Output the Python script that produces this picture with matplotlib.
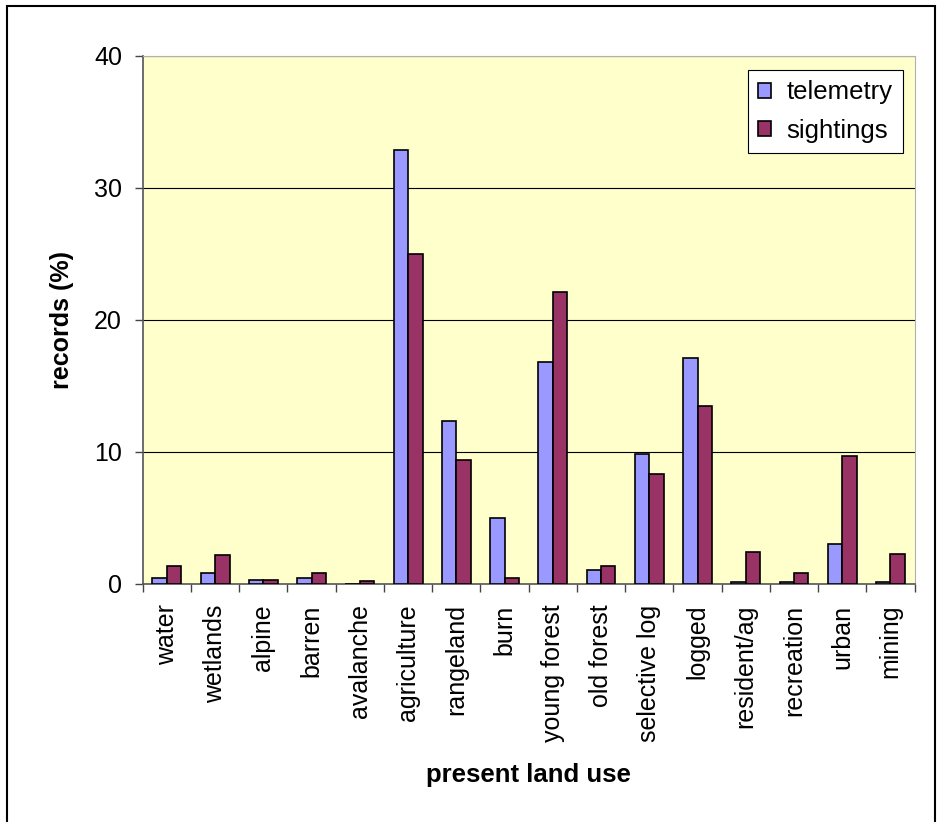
import numpy as np
import matplotlib.pyplot as plt
from matplotlib.patches import Rectangle

plt.rcParams['font.family'] = ['Liberation Sans', 'DejaVu Sans']

land_use = ['water', 'wetlands', 'alpine', 'barren', 'avalanche', 'agriculture',
            'rangeland', 'burn', 'young forest', 'old forest', 'selective log',
            'logged', 'resident/ag', 'recreation', 'urban', 'mining']
telemetry = [0.45, 0.8, 0.3, 0.45, 0.0, 32.9, 12.3, 5.0, 16.8, 1.05, 9.8,
             17.1, 0.15, 0.15, 3.0, 0.15]
sightings = [1.35, 2.15, 0.3, 0.8, 0.17, 25.0, 9.4, 0.45, 22.1, 1.35, 8.3,
             13.5, 2.4, 0.8, 9.7, 2.25]

fig = plt.figure(figsize=(9.39, 8.22), dpi=100)
ax = fig.add_axes([0.152, 0.290, 0.822, 0.642])
ax.set_facecolor('#FFFFCC')

x = np.arange(len(land_use))
w = 0.3
ax.bar(x - w / 2, telemetry, w, color='#9999FF', edgecolor='black',
       linewidth=1.2, label='telemetry', zorder=3)
ax.bar(x + w / 2, sightings, w, color='#993366', edgecolor='black',
       linewidth=1.2, label='sightings', zorder=3)

ax.set_xlim(-0.5, len(land_use) - 0.5)
ax.set_ylim(0, 40)
ax.set_yticks([0, 10, 20, 30, 40])
ax.yaxis.grid(True, color='black', linewidth=0.8, zorder=1)

ax.set_xticks(x)
ax.set_xticklabels(land_use, rotation=90, fontsize=18)
ax.tick_params(axis='x', which='major', length=0, pad=15)
ax.set_xticks(np.arange(len(land_use) + 1) - 0.5, minor=True)
ax.tick_params(axis='x', which='minor', length=6, width=1, color='#444444',
               direction='out')
ax.tick_params(axis='y', length=6, width=1, color='#444444', labelsize=18, pad=9)

for side in ['top', 'right']:
    ax.spines[side].set_color('#b0b0b0')
for side in ['left', 'bottom']:
    ax.spines[side].set_color('#555555')
    ax.spines[side].set_linewidth(1.2)

ax.set_ylabel('records (%)', fontsize=18, fontweight='bold', labelpad=14)
ax.set_xlabel('present land use', fontsize=18.5, fontweight='bold', labelpad=15)

leg = ax.legend(loc='upper right', fontsize=18.5, frameon=True, fancybox=False,
                edgecolor='black', framealpha=1, handlelength=0.5,
                handleheight=0.5, handletextpad=0.6, borderpad=0.4,
                labelspacing=0.55, borderaxespad=0,
                bbox_to_anchor=(0.985, 0.973))
leg.get_frame().set_linewidth(0.8)

# outer chart border
fig.patches.append(Rectangle((7 / 939, -0.05), 928 / 939, 1.05 - 6 / 822,
                             transform=fig.transFigure, fill=False,
                             edgecolor='black', linewidth=1.5))

fig.savefig('out.png', dpi=100)
